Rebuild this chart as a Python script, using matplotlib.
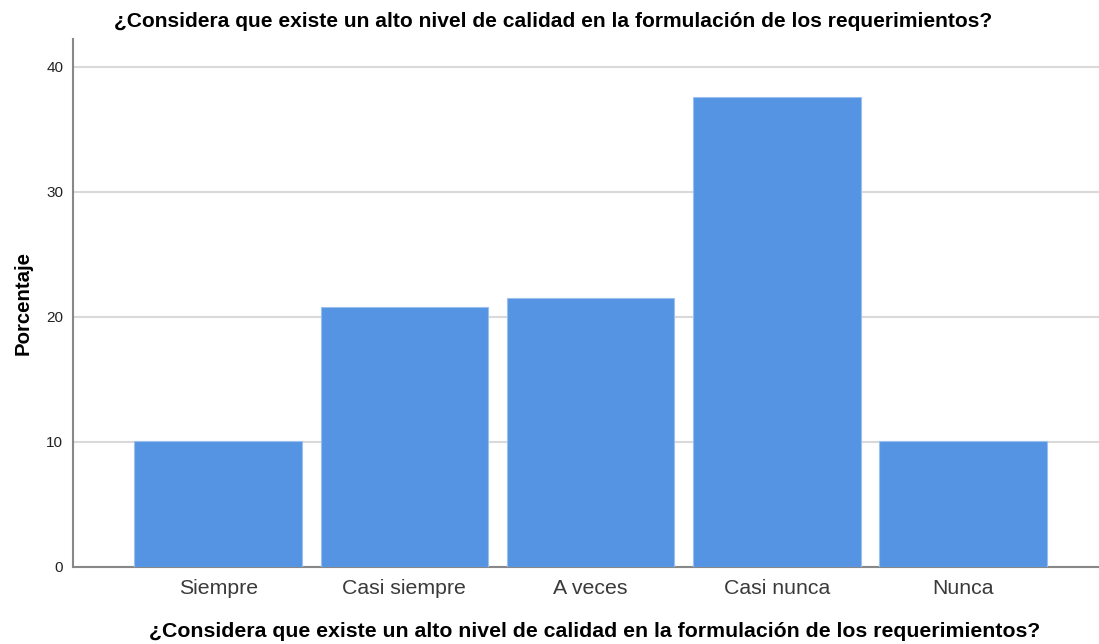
import matplotlib
matplotlib.use("Agg")
import matplotlib.pyplot as plt
import numpy as np

plt.rcParams['font.family'] = ['Liberation Sans', 'DejaVu Sans']

# Datos
categorias = ["Siempre", "Casi siempre", "A veces", "Casi nunca", "Nunca"]
porcentaje = [10.1, 20.8, 21.5, 37.6, 10.1]
yticks = [0, 10, 20, 30, 40]
pregunta = "¿Considera que existe un alto nivel de calidad en la formulación de los requerimientos?"

fig = plt.figure(figsize=(10.99, 6.44), dpi=100)
ax = fig.add_axes([0.0664, 0.1196, 0.9336, 0.8198])

x = np.arange(len(categorias))
ax.bar(x, porcentaje, width=0.9, color="#5594e3", edgecolor="#9cc0ee", linewidth=0.8, zorder=3)

ax.set_xlim(-0.78, 4.73)
ax.set_ylim(0, 42.2)
ax.set_yticks(yticks)
ax.set_xticks(x)
ax.set_xticklabels(categorias, fontsize=15.3, color="#3a3a3a")
ax.tick_params(axis="x", length=0, pad=9)
ax.tick_params(axis="y", length=0, pad=7, labelsize=11, labelcolor="#222222")
ax.grid(axis="y", color="#d9d9d9", linewidth=1.5, zorder=0)

for s in ["top", "right"]:
    ax.spines[s].set_visible(False)
for s in ["left", "bottom"]:
    ax.spines[s].set_color("#888888")
    ax.spines[s].set_linewidth(1.5)

ax.set_ylabel("Porcentaje", fontsize=14.7, fontweight="bold", labelpad=10)
ax.set_xlabel(pregunta, fontsize=15.3, fontweight="bold")
ax.xaxis.set_label_coords(0.508, -0.104)
fig.suptitle(pregunta, fontsize=15.1, fontweight="bold", x=0.503, y=0.982)

fig.savefig("out.png", dpi=100)
